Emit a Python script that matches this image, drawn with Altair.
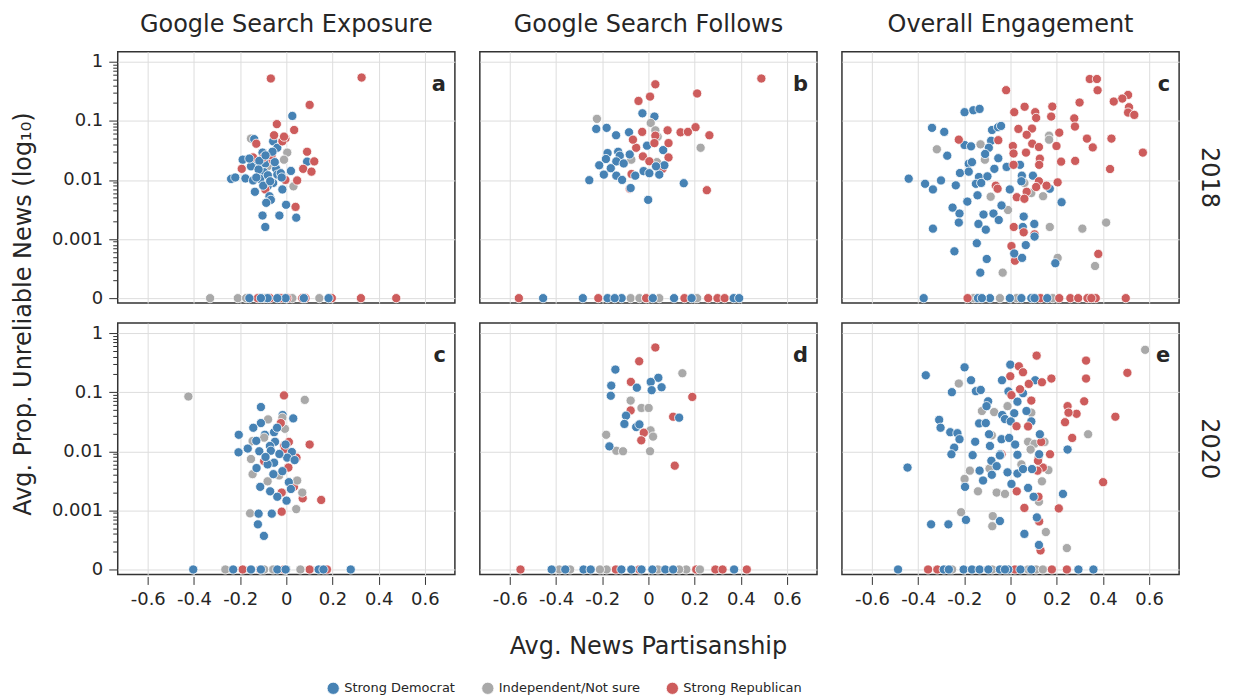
import altair as alt
import pandas as pd

FONT = "DejaVu Sans"

METRICS = ["Google Search Exposure", "Google Search Follows", "Overall Engagement"]
YEARS = ["2018", "2020"]
PARTIES = ["Strong Democrat", "Independent/Not sure", "Strong Republican"]
COLORS = ["#4682b4", "#a9a9a9", "#cd5c5c"]
LETTERS = ["a", "b", "c", "c", "d", "e"]

X_TICKS = [-0.6, -0.4, -0.2, 0, 0.2, 0.4, 0.6]
Y_MAJOR = [0.0001, 0.001, 0.01, 0.1, 1]

# ---- 2018 / Google Search Exposure (panel a) ----
EXP18_DEM = [(0.026, 0.121), (-0.139, 0.049), (-0.057, 0.045), (-0.039, 0.035), (-0.103, 0.029),
             (0.09, 0.0204), (-0.189, 0.022), (-0.139, 0.019), (-0.091, 0.019), (-0.044, 0.0154),
             (0.02, 0.0142), (-0.096, 0.0135), (-0.239, 0.0104), (-0.221, 0.011), (-0.177, 0.0106),
             (-0.144, 0.0098), (-0.113, 0.0104), (-0.057, 0.0089), (-0.081, 0.0078), (-0.017, 0.0069),
             (-0.136, 0.0063), (-0.073, 0.0053), (-0.067, 0.0046), (-0.001, 0.0038), (-0.103, 0.0025),
             (-0.03, 0.0025), (0.043, 0.0023), (-0.091, 0.0016), (-0.087, 0.0041), (-0.039, 0.0123),
             (-0.117, 0.021), (-0.153, 0.017), (-0.024, 0.013), (-0.12, 0.015), (-0.08, 0.012),
             (-0.05, 0.02), (-0.1, 0.008), (-0.06, 0.03), (-0.13, 0.011), (-0.02, 0.011),
             (-0.07, 0.0095), (-0.16, 0.023), (-0.09, 0.026),
             (-0.16, 0), (-0.081, 0), (-0.003, 0), (0.076, 0), (0.183, 0), (-0.039, 0), (-0.11, 0)]
EXP18_IND = [(-0.153, 0.05), (0.004, 0.029), (-0.01, 0.022), (0.031, 0.0078), (-0.081, 0.017),
             (-0.33, 0), (-0.21, 0), (-0.174, 0), (0.143, 0), (-0.096, 0), (0.026, 0)]
EXP18_REP = [(-0.067, 0.52), (0.326, 0.54), (0.101, 0.186), (-0.041, 0.088), (0.034, 0.07),
             (-0.053, 0.057), (-0.004, 0.05), (-0.13, 0.041), (0.09, 0.03), (0.121, 0.0206),
             (0.073, 0.0154), (0.109, 0.0138), (-0.193, 0.0154), (-0.144, 0.024), (-0.099, 0.024),
             (-0.059, 0.0215), (-0.064, 0.026), (-0.004, 0.01), (0.047, 0.0098), (0.04, 0.0035),
             (-0.091, 0.0069), (-0.017, 0.045), (-0.01, 0.054),
             (-0.124, 0), (-0.07, 0), (0.004, 0), (0.083, 0), (0.197, 0), (0.323, 0), (0.476, 0),
             (-0.024, 0), (0.069, 0)]

# ---- 2018 / Google Search Follows (panel b) ----
FOL18_DEM = [(-0.026, 0.134), (0.026, 0.118), (-0.226, 0.073), (-0.181, 0.076), (-0.14, 0.057),
             (-0.084, 0.064), (-0.006, 0.038), (0.064, 0.032), (-0.177, 0.0285), (-0.131, 0.03),
             (-0.081, 0.027), (-0.124, 0.0257), (-0.184, 0.0226), (-0.139, 0.0206), (-0.107, 0.019),
             (-0.213, 0.0177), (-0.163, 0.0158), (-0.193, 0.0123), (-0.139, 0.0118), (-0.114, 0.01),
             (-0.057, 0.0118), (-0.021, 0.0141), (0.004, 0.013), (0.047, 0.0123), (0.069, 0.0177),
             (-0.256, 0.0099), (-0.077, 0.0073), (0.153, 0.0088), (-0.001, 0.0046), (0.033, 0.017),
             (-0.456, 0), (-0.284, 0), (-0.177, 0), (-0.116, 0), (-0.146, 0), (0.111, 0),
             (0.187, 0), (0.369, 0), (0.393, 0), (0.019, 0)]
FOL18_IND = [(-0.223, 0.108), (0.01, 0.092), (0.03, 0.069), (0.04, 0.054), (0.226, 0.035),
             (0.037, 0.02), (-0.074, 0.022),
             (-0.077, 0), (-0.039, 0), (-0.01, 0), (0.047, 0), (0.211, 0)]
FOL18_REP = [(0.489, 0.52), (0.03, 0.415), (0.211, 0.29), (0.007, 0.257), (-0.043, 0.217),
             (0.204, 0.078), (0.264, 0.057), (0.139, 0.064), (0.171, 0.065), (0.083, 0.069),
             (-0.027, 0.065), (0.03, 0.056), (0.087, 0.042), (-0.053, 0.035), (-0.024, 0.025),
             (0.087, 0.024), (0.004, 0.0207), (0.061, 0.0154), (-0.073, 0.0126), (-0.081, 0.0071),
             (0.253, 0.0067), (-0.067, 0.048), (0.026, 0.042),
             (-0.561, 0), (-0.217, 0), (0.156, 0), (0.259, 0), (0.299, 0), (0.33, 0), (-0.01, 0)]

# ---- 2018 / Overall Engagement (panel c) ----
ALL18_DEM = [(-0.199, 0.14), (-0.161, 0.151), (-0.134, 0.159), (-0.34, 0.076), (-0.287, 0.065),
             (-0.08, 0.07), (-0.054, 0.078), (-0.041, 0.082), (-0.084, 0.046), (-0.199, 0.039),
             (-0.171, 0.037), (-0.094, 0.035), (-0.11, 0.0275), (-0.274, 0.0257), (-0.053, 0.0233),
             (-0.181, 0.0188), (-0.167, 0.02), (-0.07, 0.0154), (-0.219, 0.0131), (-0.181, 0.0138),
             (-0.017, 0.0166), (0.041, 0.018), (-0.441, 0.0105), (-0.37, 0.0086), (-0.336, 0.0069),
             (-0.301, 0.0098), (-0.237, 0.0081), (-0.137, 0.0112), (-0.1, 0.0115), (-0.15, 0.0086),
             (-0.127, 0.0089), (0.049, 0.0118), (0.097, 0.0118), (-0.003, 0.0069), (0.17, 0.0071),
             (-0.143, 0.0055), (-0.187, 0.0043), (-0.039, 0.0037), (0.221, 0.0042), (-0.251, 0.0034),
             (-0.221, 0.0027), (-0.117, 0.0026), (-0.074, 0.0027), (-0.051, 0.0021), (-0.224, 0.0019),
             (-0.139, 0.0018), (-0.107, 0.00144), (-0.336, 0.0015), (0.057, 0.0024), (0.103, 0.0018),
             (0.053, 0.0016), (0.104, 0.0011), (-0.243, 0.00062), (-0.146, 0.00085), (0.066, 0.00079),
             (0.016, 0.00057), (0.05, 0.00048), (-0.103, 0.00046), (-0.131, 0.00027), (0.194, 0.00039),
             (0.047, 0.0095),
             (-0.376, 0), (-0.141, 0), (-0.089, 0), (-0.003, 0), (0.047, 0), (0.09, 0), (0.159, 0),
             (-0.124, 0), (0.104, 0)]
ALL18_IND = [(-0.319, 0.033), (-0.13, 0.04), (-0.111, 0.022), (-0.016, 0.0166), (0.167, 0.056),
             (0.167, 0.048), (0.06, 0.0089), (-0.086, 0.0052), (0.141, 0.0053), (-0.011, 0.0031),
             (0.17, 0.0016), (0.311, 0.0015), (0.414, 0.0019), (0.204, 0.00048), (0.366, 0.00035),
             (-0.034, 0.00027), (0.09, 0.006),
             (-0.046, 0), (-0.16, 0), (0.026, 0), (0.183, 0)]
ALL18_REP = [(0.343, 0.51), (0.374, 0.51), (0.377, 0.329), (-0.019, 0.33), (0.509, 0.274),
             (0.484, 0.238), (0.447, 0.212), (0.513, 0.17), (0.509, 0.138), (0.536, 0.126),
             (0.299, 0.204), (0.181, 0.174), (0.061, 0.173), (0.016, 0.14), (0.107, 0.14),
             (0.111, 0.112), (0.176, 0.118), (0.276, 0.11), (0.279, 0.08), (0.034, 0.073),
             (0.093, 0.074), (0.211, 0.063), (0.07, 0.058), (0.331, 0.05), (0.356, 0.0355),
             (0.437, 0.05), (-0.224, 0.048), (-0.053, 0.047), (0.094, 0.041), (0.01, 0.0374),
             (0.123, 0.036), (0.199, 0.0375), (0.067, 0.029), (0.013, 0.028), (0.127, 0.0229),
             (0.124, 0.018), (0.219, 0.0204), (0.28, 0.021), (0.573, 0.029), (0.431, 0.0153),
             (0.013, 0.018), (0.204, 0.0091), (0.123, 0.0095), (-0.064, 0.008), (-0.056, 0.0071),
             (0.07, 0.0063), (0.111, 0.0076), (0.027, 0.0051), (0.06, 0.0048), (0.014, 0.0016),
             (0.104, 0.0012), (0.057, 0.0013), (0.004, 0.00076), (0.019, 0.00043), (0.38, 0.00056),
             (0.156, 0.008),
             (-0.186, 0), (0.211, 0), (0.259, 0), (0.293, 0), (0.333, 0), (0.369, 0), (0.499, 0),
             (0.13, 0), (0.35, 0)]

# ---- 2020 / Google Search Exposure (panel c) ----
EXP20_DEM = [(-0.11, 0.056), (0.03, 0.036), (-0.016, 0.041), (-0.11, 0.03), (-0.143, 0.025),
             (-0.206, 0.019), (-0.093, 0.019), (-0.053, 0.021), (-0.049, 0.0145), (-0.071, 0.0123),
             (-0.207, 0.0096), (-0.167, 0.0111), (-0.117, 0.01), (-0.067, 0.0102), (0.024, 0.0097),
             (0.004, 0.0078), (0.036, 0.0071), (-0.053, 0.0064), (-0.129, 0.0052), (-0.081, 0.006),
             (-0.056, 0.0041), (-0.017, 0.0046), (0.011, 0.003), (-0.113, 0.0025), (-0.07, 0.0021),
             (-0.039, 0.0017), (0.001, 0.00146), (0.02, 0.0023), (-0.12, 0.00088), (-0.063, 0.00088),
             (-0.123, 0.00058), (-0.097, 0.00037), (-0.003, 0.013), (-0.09, 0.008), (-0.03, 0.009),
             (-0.13, 0.015), (-0.04, 0.025),
             (-0.403, 0), (-0.23, 0), (-0.11, 0), (-0.039, 0), (-0.003, 0), (0.14, 0), (0.161, 0),
             (0.279, 0), (-0.153, 0)]
EXP20_IND = [(-0.424, 0.0845), (0.08, 0.074), (-0.079, 0.0346), (-0.017, 0.037), (-0.006, 0.024),
             (-0.146, 0.0149), (-0.153, 0.0074), (-0.146, 0.0041), (-0.081, 0.0031), (0.047, 0.0032),
             (0.069, 0.002), (0.043, 0.00105), (-0.157, 0.00089), (-0.031, 0.0039), (-0.096, 0.017),
             (-0.264, 0), (-0.057, 0), (0.0, 0), (0.061, 0), (-0.096, 0)]
EXP20_REP = [(-0.01, 0.088), (0.101, 0.013), (0.011, 0.0144), (-0.01, 0.0123), (-0.006, 0.0109),
             (0.044, 0.0078), (0.009, 0.0053), (0.033, 0.0025), (-0.02, 0.002), (0.071, 0.0016),
             (0.151, 0.0015), (-0.02, 0.00095), (-0.024, 0.03), (-0.096, 0.0068),
             (-0.189, 0), (-0.113, 0), (0.101, 0), (-0.01, 0), (0.176, 0)]

# ---- 2020 / Google Search Follows (panel d) ----
FOL20_DEM = [(-0.143, 0.241), (-0.161, 0.129), (0.043, 0.175), (0.01, 0.149), (0.057, 0.121),
             (-0.05, 0.119), (0.014, 0.108), (-0.163, 0.087), (-0.097, 0.04), (-0.104, 0.029),
             (-0.053, 0.0257), (-0.039, 0.0285), (0.133, 0.037), (-0.169, 0.0121),
             (-0.419, 0), (-0.36, 0), (-0.281, 0), (-0.25, 0), (-0.117, 0), (-0.074, 0), (-0.03, 0),
             (0.017, 0), (0.073, 0), (0.107, 0), (0.371, 0)]
FOL20_IND = [(0.147, 0.209), (-0.077, 0.072), (-0.03, 0.054), (0.001, 0.054), (-0.183, 0.019),
             (0.009, 0.0226), (0.02, 0.0177), (-0.139, 0.0102), (-0.11, 0.01), (0.007, 0.01),
             (-0.386, 0), (-0.339, 0), (-0.181, 0), (-0.21, 0), (0.041, 0), (0.164, 0), (0.223, 0),
             (0.133, 0)]
FOL20_REP = [(0.03, 0.57), (-0.04, 0.333), (-0.076, 0.149), (0.19, 0.083), (-0.077, 0.049),
             (0.107, 0.0384), (-0.02, 0.0206), (-0.031, 0.0153), (0.114, 0.0057),
             (-0.554, 0), (-0.141, 0), (0.207, 0), (0.29, 0), (0.321, 0), (0.426, 0), (-0.04, 0)]

# ---- 2020 / Overall Engagement (panel e) ----
ALL20_DEM = [(-0.001, 0.292), (-0.199, 0.263), (-0.367, 0.193), (-0.171, 0.159), (-0.037, 0.159),
             (0.107, 0.159), (-0.254, 0.1), (-0.15, 0.104), (-0.129, 0.109), (-0.009, 0.103),
             (0.054, 0.096), (-0.097, 0.07), (0.03, 0.069), (-0.104, 0.058), (0.069, 0.048),
             (0.016, 0.044), (-0.036, 0.041), (-0.024, 0.035), (0.001, 0.032), (0.09, 0.032),
             (-0.309, 0.034), (-0.303, 0.025), (-0.136, 0.0296), (-0.107, 0.03), (-0.261, 0.021),
             (-0.23, 0.0202), (-0.221, 0.016), (-0.093, 0.0194), (-0.153, 0.0145), (-0.039, 0.016),
             (-0.006, 0.0168), (0.02, 0.013), (0.127, 0.0194), (-0.244, 0.0115), (-0.256, 0.0089),
             (-0.164, 0.0086), (-0.089, 0.0123), (-0.046, 0.0089), (0.03, 0.0087), (0.124, 0.0089),
             (-0.083, 0.0069), (-0.06, 0.0056), (-0.134, 0.0047), (-0.119, 0.0032), (-0.081, 0.004),
             (-0.013, 0.0044), (0.03, 0.0042), (0.004, 0.0028), (0.054, 0.005), (0.093, 0.005),
             (0.076, 0.0024), (0.1, 0.0017), (0.227, 0.0019), (0.247, 0.0107), (-0.197, 0.0025),
             (-0.446, 0.0053), (-0.344, 0.00058), (-0.269, 0.00058), (-0.193, 0.00069),
             (-0.046, 0.00066), (0.114, 0.00076), (0.06, 0.0004), (0.123, 0.00026), (-0.046, 0.0085),
             (-0.487, 0), (-0.289, 0), (-0.267, 0), (-0.203, 0), (-0.167, 0), (-0.134, 0), (-0.046, 0),
             (-0.01, 0), (0.043, 0), (0.09, 0), (0.294, 0), (0.359, 0), (-0.096, 0), (-0.024, 0)]
ALL20_IND = [(0.583, 0.52), (-0.224, 0.14), (-0.013, 0.058), (-0.124, 0.048), (-0.071, 0.046),
             (-0.081, 0.0186), (0.09, 0.045), (0.336, 0.0194), (0.076, 0.0145), (0.104, 0.0134),
             (0.087, 0.0107), (0.147, 0.0144), (0.121, 0.0078), (0.164, 0.0048), (-0.091, 0.0051),
             (-0.176, 0.0047), (-0.199, 0.0034), (-0.141, 0.0021), (-0.06, 0.002), (-0.024, 0.0019),
             (0.123, 0.0014), (0.136, 0.0031), (-0.214, 0.00093), (-0.077, 0.0008), (-0.079, 0.00054),
             (0.153, 0.00043), (0.244, 0.00023), (0.047, 0.006),
             (-0.253, 0), (-0.079, 0), (0.111, 0), (0.14, 0), (0.076, 0)]
ALL20_REP = [(0.113, 0.415), (0.327, 0.342), (0.036, 0.274), (0.054, 0.217), (-0.001, 0.186),
             (0.177, 0.17), (0.136, 0.147), (0.327, 0.17), (0.506, 0.212), (0.079, 0.138),
             (0.041, 0.112), (0.004, 0.089), (0.09, 0.072), (0.319, 0.07), (0.247, 0.058),
             (0.286, 0.043), (0.251, 0.045), (0.236, 0.031), (0.454, 0.0384), (0.267, 0.0168),
             (0.076, 0.0263), (0.026, 0.0265), (0.133, 0.0144), (0.171, 0.0089), (-0.039, 0.0089),
             (0.14, 0.0053), (0.117, 0.0047), (0.401, 0.003), (0.027, 0.0021), (0.121, 0.0017),
             (0.06, 0.0011), (0.209, 0.00108), (0.124, 0.00065), (0.13, 0.00021), (0.119, 0.0069),
             (-0.357, 0), (-0.317, 0), (0.179, 0), (0.244, 0), (0.019, 0)]

PANELS = [
    ("Google Search Exposure", "2018", EXP18_DEM, EXP18_IND, EXP18_REP),
    ("Google Search Follows", "2018", FOL18_DEM, FOL18_IND, FOL18_REP),
    ("Overall Engagement", "2018", ALL18_DEM, ALL18_IND, ALL18_REP),
    ("Google Search Exposure", "2020", EXP20_DEM, EXP20_IND, EXP20_REP),
    ("Google Search Follows", "2020", FOL20_DEM, FOL20_IND, FOL20_REP),
    ("Overall Engagement", "2020", ALL20_DEM, ALL20_IND, ALL20_REP),
]

rows = []
for (metric, year, dem, ind, rep), letter in zip(PANELS, LETTERS):
    series = [(PARTIES[0], dem), (PARTIES[1], ind), (PARTIES[2], rep)]
    n = max(len(s) for _, s in series)
    for i in range(n):
        for party, pts in series:
            if i < len(pts):
                rows.append({"metric": metric, "year": year, "party": party,
                             "x": pts[i][0], "y": pts[i][1], "kind": "pt", "letter": ""})
    rows.append({"metric": metric, "year": year, "party": None, "x": 0.0, "y": 1.0,
                 "kind": "label", "letter": letter})

df = pd.DataFrame(rows)

W, H = 338, 252
major_test = "abs(log(datum.value)/LN10 - round(log(datum.value)/LN10)) < 0.000001"
y_values = []
for dec in [0.0001, 0.001, 0.01, 0.1]:
    for k in range(1, 10):
        y_values.append(round(dec * k, 6))
y_values.append(1)

x_axis = alt.Axis(values=X_TICKS, title=None, grid=True, tickSize=8,
                  labelExpr="datum.value == 0 ? '0' : (datum.value < 0 ? '-' + format(-datum.value, '.1f') : format(datum.value, '.1f'))")
y_axis = alt.Axis(values=y_values, title=None, grid=True,
                  labelExpr=f"({major_test}) ? (datum.value < 0.0005 ? '0' : format(datum.value, '~g')) : ''",
                  tickSize={"condition": {"test": major_test, "value": 8}, "value": 4},
                  gridOpacity={"condition": {"test": major_test, "value": 1}, "value": 0})

points = alt.Chart().mark_circle(size=85, opacity=1, stroke="white", strokeWidth=0.8).encode(
    x=alt.X("x:Q", scale=alt.Scale(domain=[-0.73, 0.73], nice=False, zero=False), axis=x_axis),
    y=alt.Y("yp:Q", scale=alt.Scale(type="log", domain=[0.0000824, 1.475], nice=False), axis=y_axis),
    color=alt.Color("party:N", scale=alt.Scale(domain=PARTIES, range=COLORS),
                    legend=alt.Legend(title=None, orient="none", direction="horizontal",
                                      legendX=209, legendY=631,
                                      symbolType="circle", symbolSize=150, symbolStrokeColor="white",
                                      symbolStrokeWidth=0.8, labelFontSize=13, labelFont=FONT,
                                      labelColor="#262626", columnPadding=24)),
).transform_filter("datum.kind == 'pt'").transform_calculate(yp="datum.y > 0 ? datum.y : 0.0001")

letters = alt.Chart().mark_text(font=FONT, fontSize=21, fontWeight="bold", align="right",
                                baseline="middle", color="#262626").encode(
    text="letter:N", x=alt.value(W - 9), y=alt.value(33)
).transform_filter("datum.kind == 'label'")

layered = alt.layer(points, letters, data=df).properties(width=W, height=H)

chart = layered.facet(
    row=alt.Row("year:N", sort=YEARS,
                header=alt.Header(title="Avg. Prop. Unreliable News (log₁₀)", titleOrient="left",
                                  titleFont=FONT, titleFontSize=24, titleFontWeight="normal",
                                  titleColor="#262626", titlePadding=5,
                                  labelOrient="right", labelAngle=90, labelFont=FONT,
                                  labelFontSize=24, labelColor="#262626", labelPadding=17)),
    column=alt.Column("metric:N", sort=METRICS,
                      header=alt.Header(title="Avg. News Partisanship", titleOrient="bottom",
                                        titleFont=FONT, titleFontSize=24, titleFontWeight="normal",
                                        titleColor="#262626", titlePadding=17,
                                        labelOrient="top", labelFont=FONT, labelFontSize=24,
                                        labelColor="#262626", labelPadding=14)),
    spacing={"row": 17, "column": 23},
).properties(
    background="white", padding={"left": 3, "top": 4, "right": 4, "bottom": 0}
).configure_view(stroke="#333333", strokeWidth=1.5).configure_axis(
    domain=False, gridColor="#dddddd", gridWidth=1, tickColor="#333333", tickWidth=1,
    labelFont=FONT, labelFontSize=18, labelColor="#262626", labelPadding=6
)

chart.save("out.html", embed_options={"renderer": "svg", "actions": False})
